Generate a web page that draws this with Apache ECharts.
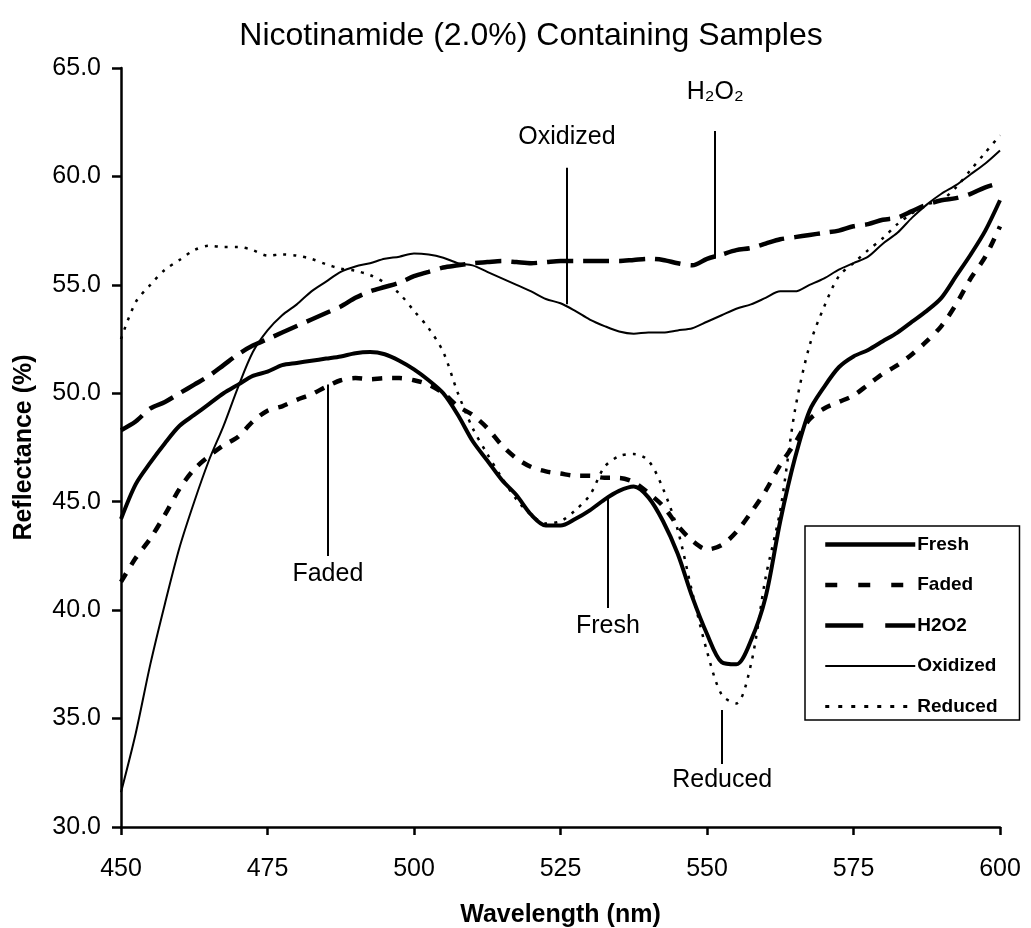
<!DOCTYPE html>
<html>
<head>
<meta charset="utf-8">
<script src="https://cdn.jsdelivr.net/npm/echarts@6/dist/echarts.min.js"></script>
<style>
html,body{margin:0;padding:0;background:#fff;}
#chart{width:1031px;height:928px;}
</style>
</head>
<body>
<div id="chart"></div>
<script>
// Wavelength (nm), 2.5 nm steps
const wavelengths = [450,452.5,455,457.5,460,462.5,465,467.5,470,472.5,475,477.5,480,482.5,485,487.5,490,492.5,495,497.5,500,502.5,505,507.5,510,512.5,515,517.5,520,522.5,525,527.5,530,532.5,535,537.5,540,542.5,545,547.5,550,552.5,555,557.5,560,562.5,565,567.5,570,572.5,575,577.5,580,582.5,585,587.5,590,592.5,595,597.5,600];

const fresh = [44.2,45.8,46.8,47.7,48.5,49.0,49.5,50.0,50.4,50.8,51.0,51.3,51.4,51.5,51.6,51.7,51.85,51.9,51.8,51.5,51.1,50.6,50.0,49.0,47.8,46.9,46.0,45.3,44.4,43.9,43.9,44.2,44.6,45.1,45.5,45.7,45.2,44.1,42.6,40.6,38.9,37.6,37.5,38.6,40.6,44.1,47.0,49.2,50.3,51.2,51.7,52.0,52.4,52.8,53.3,53.8,54.4,55.4,56.4,57.5,58.9];

const faded = [41.3,42.4,43.3,44.4,45.6,46.5,47.1,47.6,48.0,48.7,49.2,49.4,49.7,49.95,50.3,50.6,50.7,50.65,50.7,50.7,50.6,50.4,50.0,49.4,49.0,48.4,47.6,47.0,46.6,46.4,46.3,46.2,46.2,46.1,46.1,45.9,45.4,44.8,43.9,43.2,42.8,43.0,43.6,44.5,45.5,46.7,47.7,48.8,49.3,49.6,49.9,50.4,50.9,51.3,51.8,52.4,53.1,54.1,55.3,56.3,57.7];

const h2o2 = [48.3,48.7,49.3,49.6,50.0,50.4,50.8,51.3,51.8,52.2,52.5,52.8,53.1,53.4,53.7,54.0,54.4,54.7,54.9,55.1,55.4,55.6,55.8,55.9,56.0,56.05,56.1,56.05,56.0,56.05,56.1,56.1,56.1,56.1,56.1,56.15,56.2,56.15,56.0,55.9,56.2,56.4,56.6,56.7,56.9,57.1,57.2,57.3,57.4,57.5,57.7,57.8,58.0,58.1,58.4,58.7,58.9,59.0,59.2,59.5,59.7];

const oxidized = [31.6,34.3,37.5,40.3,42.9,45.0,46.9,48.5,50.3,51.9,52.9,53.6,54.1,54.7,55.15,55.6,55.85,56.0,56.2,56.3,56.45,56.4,56.25,56.0,55.9,55.6,55.3,55.0,54.7,54.35,54.15,53.8,53.4,53.1,52.85,52.75,52.8,52.8,52.9,53.0,53.3,53.6,53.9,54.1,54.4,54.7,54.7,55.0,55.3,55.7,56.0,56.3,56.9,57.4,58.1,58.7,59.2,59.6,60.1,60.6,61.2];

const reduced = [52.5,54.2,55.0,55.7,56.15,56.6,56.8,56.75,56.75,56.6,56.35,56.4,56.35,56.2,55.95,55.75,55.65,55.45,55.1,54.6,53.8,53.0,51.9,50.0,48.4,47.2,46.1,45.1,44.4,44.0,44.1,44.6,45.3,46.6,47.1,47.2,46.9,45.6,43.7,40.8,38.1,36.1,35.7,37.5,41.5,44.6,49.2,52.2,54.0,55.4,56.0,56.6,57.15,57.8,58.3,58.7,58.9,59.5,60.3,61.1,61.9];

const seriesNames = ['Fresh','Faded','H2O2','Oxidized','Reduced'];

// Callout annotations: label, wavelength, y from (at curve), y to (toward text)
const calloutLabels = ['H\u2082O\u2082','Oxidized','Faded','Fresh','Reduced'];
const calloutX      = [551.4, 526.1, 485.3, 533.1, 552.6];
const calloutFrom   = [56.2, 54.1, 50.4, 45.2, 35.4];
const calloutTo     = [62.1, 60.4, 42.5, 40.1, 32.9];

const FONT = 'Liberation Sans, Arial, DejaVu Sans, sans-serif';
const calloutGap = [26, 18, 6, 6, 3];

function pairs(vals){ return wavelengths.map((w,i)=>[w, vals[i]]); }

const styles = [
  {width:4,   type:'solid'},
  {width:4.5, type:[10,10]},
  {width:4.5, type:[26,10]},
  {width:2,   type:'solid'},
  {width:2.5, type:[3,7]}
];
const legendStyles = [
  {width:4.5, type:'solid'},
  {width:4.5, type:[12,21]},
  {width:4.5, type:[38,22]},
  {width:2,   type:'solid'},
  {width:3,   type:[4,9]}
];
const values = [fresh, faded, h2o2, oxidized, reduced];

const series = seriesNames.map((n,i)=>({
  name:n, type:'line', data:pairs(values[i]), smooth:0.3,
  symbol:'none', showSymbol:false, silent:true,
  lineStyle:{color:'#000', width:styles[i].width, type:styles[i].type, cap:'butt'},
  itemStyle:{color:'#000'},
  z: 3
}));

// annotations as markLine on an extra empty series
series.push({
  name:'callouts', type:'line', data:[], symbol:'none', silent:true,
  markLine:{
    silent:true, symbol:['none','none'], animation:false,
    lineStyle:{color:'#000', width:2, type:'solid'},
    label:{show:true, position:'end', distance:6, color:'#000', fontFamily:FONT, fontSize:25},
    data: calloutLabels.map((t,i)=>[
      {coord:[calloutX[i], calloutFrom[i]], label:{formatter:t, distance:calloutGap[i]}},
      {coord:[calloutX[i], calloutTo[i]]}
    ])
  }
});

const chart = echarts.init(document.getElementById('chart'), null, {renderer:'canvas'});
chart.setOption({
  animation:false,
  backgroundColor:'#fff',
  title:{
    text:'Nicotinamide (2.0%) Containing Samples',
    left:526, top:15, textAlign:'center',
    textStyle:{fontFamily:FONT, fontSize:32, fontWeight:'normal', color:'#000'}
  },
  grid:{left:121, right:31, top:68, bottom:101, containLabel:false, outerBoundsMode:'none'},
  legend:{
    data:seriesNames.map((n,i)=>({name:n, lineStyle:{width:legendStyles[i].width, type:legendStyles[i].type, color:'#000'}})),
    orient:'vertical', left:805, top:526,
    backgroundColor:'#fff', borderColor:'#000', borderWidth:1.5,
    padding:[9,22,4,18], itemWidth:90, itemHeight:20, itemGap:21.5,
    itemStyle:{opacity:0},
    lineStyle:{width:'inherit'},
    textStyle:{fontFamily:FONT, fontSize:19, fontWeight:'bold', color:'#000', padding:[0,0,0,-3]}
  },
  xAxis:{
    type:'value', min:450, max:600, interval:25,
    name:'Wavelength (nm)', nameLocation:'middle', nameGap:76,
    nameTextStyle:{fontFamily:FONT, fontSize:25, fontWeight:'bold', color:'#000'},
    axisLine:{show:true, onZero:false, lineStyle:{color:'#000', width:2.5}},
    axisTick:{show:true, inside:false, length:8, lineStyle:{color:'#000', width:2.5}},
    axisLabel:{fontFamily:FONT, fontSize:25, color:'#000', margin:30},
    splitLine:{show:false}
  },
  yAxis:{
    type:'value', min:30, max:65, interval:5,
    name:'Reflectance (%)', nameLocation:'middle', nameGap:84,
    nameTextStyle:{fontFamily:FONT, fontSize:25, fontWeight:'bold', color:'#000'},
    axisLine:{show:true, onZero:false, lineStyle:{color:'#000', width:2.5}},
    axisTick:{show:true, inside:false, length:9, lineStyle:{color:'#000', width:2.5}},
    axisLabel:{fontFamily:FONT, fontSize:25, color:'#000', margin:20, formatter:v=>v.toFixed(1)},
    splitLine:{show:false}
  },
  series:series
});
</script>
</body>
</html>
